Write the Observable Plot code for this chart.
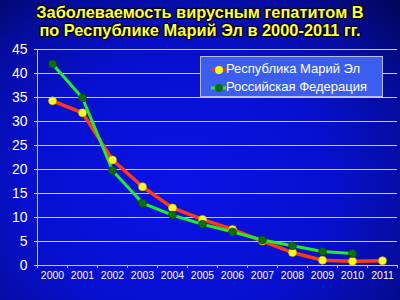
<!DOCTYPE html>
<html><head><meta charset="utf-8">
<script src="https://cdn.jsdelivr.net/npm/d3@7"></script>
<script src="https://cdn.jsdelivr.net/npm/@observablehq/plot@0.6"></script>
<style>
html,body{margin:0;padding:0;}
body{width:400px;height:300px;overflow:hidden;position:relative;font-family:"Liberation Sans",Arial,sans-serif;
background: radial-gradient(ellipse 75% 85% at 45% 62%, #0a12e6 0%, #0710d0 50%, #050c9c 80%, #020660 100%);}
#title{position:absolute;top:3px;left:0;width:400px;text-align:center;color:#ffff33;font-weight:bold;font-size:16.4px;line-height:18px;text-shadow:1px 1px 1px #000,-1px -1px 1px #000,1px -1px 1px #000,-1px 1px 1px #000;}
#chart{position:absolute;top:42px;left:0;}
#legend{position:absolute;left:200px;top:56px;width:181px;height:39px;background:#3c5ef0;border:1px solid #b8bcd8;color:#fff;font-size:13px;}
#legend .row{position:absolute;left:10px;height:16px;line-height:16px;white-space:nowrap;}
#legend svg{vertical-align:middle;margin-right:0;}
</style>
</head><body>
<div id="title">Заболеваемость вирусным гепатитом В<br>по Республике Марий Эл в 2000-2011 гг.</div>
<div id="chart"></div>
<div id="legend"></div>
<script>
const years = [2000,2001,2002,2003,2004,2005,2006,2007,2008,2009,2010,2011];
const mariEl = [34.3,31.8,22.0,16.4,12.0,9.6,7.5,5.1,2.7,1.1,0.9,1.0];
const russia = [42.0,34.9,19.8,13.0,10.5,8.6,7.0,5.3,4.1,2.9,2.5];
const yTicks = [0,5,10,15,20,25,30,35,40,45];
const seriesNames = ["Республика Марий Эл","Российская Федерация"];
const lineColors = ["#ff3a10","#22ee22"];
const dotColors = ["#ffff1a","#0b6e0b"];

const rowsM = mariEl.map((v,i)=>({year:years[i], v}));
const rowsR = russia.map((v,i)=>({year:years[i], v}));
const boundaries = [...years.map(y=>y-0.5), years[years.length-1]+0.5];

const chart = Plot.plot({
  width:400, height:258, marginTop:7, marginBottom:35, marginLeft:37, marginRight:3,
  x:{domain:[years[0]-0.5, years[years.length-1]+0.5]},
  y:{domain:[0,45]},
  style:{background:"transparent", color:"white", fontFamily:"'Liberation Sans',Arial,sans-serif"},
  marks:[
    Plot.ruleY(yTicks.slice(1), {stroke:"#c4c8f4", strokeWidth:1}),
    Plot.ruleY([0], {stroke:"#c8c8e0"}),
    Plot.ruleX([boundaries[0]], {stroke:"#c8c8e0"}),
    Plot.axisY({ticks:yTicks, tickSize:3, tickPadding:7, fontSize:14, label:null, stroke:"#c8c8e0"}),
    Plot.axisX({ticks:years, tickSize:0, tickPadding:6, fontSize:10.5, tickFormat:d=>String(d), label:null}),
    Plot.axisX({ticks:boundaries, tickSize:3, tickFormat:()=>"", label:null, stroke:"#c8c8e0"}),
    Plot.line(rowsM, {x:"year", y:"v", stroke:lineColors[0], strokeWidth:3.5}),
    Plot.line(rowsR, {x:"year", y:"v", stroke:lineColors[1], strokeWidth:3}),
    Plot.dot(rowsM, {x:"year", y:"v", r:4, fill:dotColors[0], stroke:"#c8b400", strokeWidth:0.6}),
    Plot.dot(rowsR, {x:"year", y:"v", r:4, fill:dotColors[1], stroke:"#054005", strokeWidth:0.6})
  ]
});
document.getElementById("chart").appendChild(chart);

const legend = document.getElementById("legend");
seriesNames.forEach((name,i)=>{
  const row = document.createElement("div");
  row.className = "row";
  row.style.top = (4 + i*18) + "px";
  row.innerHTML = `<svg width="15" height="10"><line x1="0" y1="5" x2="15" y2="5" stroke="${lineColors[i]}" stroke-width="3"/><circle cx="8" cy="5" r="4" fill="${dotColors[i]}"/></svg>${name}`;
  legend.appendChild(row);
});
</script>
</body></html>
